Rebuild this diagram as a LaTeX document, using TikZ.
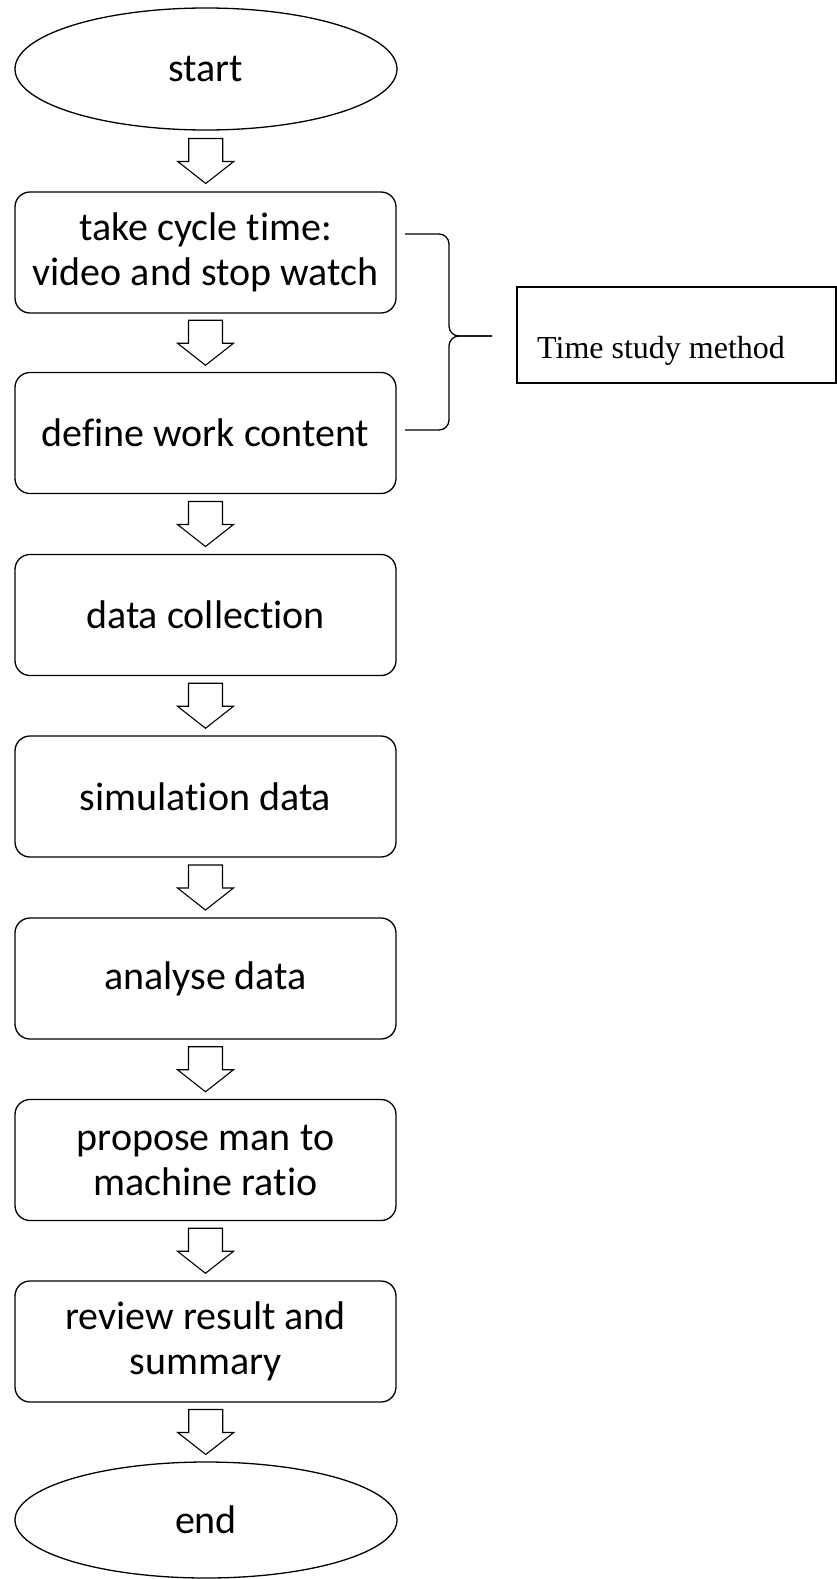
\documentclass[tikz,border=0pt]{standalone}
\usepackage{fontspec}
\setmainfont{Carlito}[RawFeature=-liga]
\newfontfamily\tsfont{Liberation Serif}
\usetikzlibrary{shapes.geometric,calc}
\tikzset{
 term/.style={ellipse,draw,line width=1.3pt,minimum width=382pt,minimum height=122pt,inner sep=0pt,font=\fontsize{40}{45}\selectfont},
 stepbox/.style={rectangle,draw,rounded corners=15pt,line width=1.3pt,minimum width=381pt,minimum height=121pt,inner sep=0pt,align=center,font=\fontsize{40}{45}\selectfont},
 blockarr/.style={draw,line width=1.1pt,line join=miter},
 tbox/.style={rectangle,draw,line width=1.3pt,minimum width=319pt,minimum height=96pt,inner sep=0pt},
 tlabel/.style={anchor=base west,inner sep=0pt,font=\tsfont\fontsize{32}{36}\selectfont},
 bracestyle/.style={draw,line width=1.3pt,rounded corners=10pt}
}
\newcommand\flowarrow[2]{%
 \coordinate (m) at ($(#1.south)!0.5!(#2.north)$);
 \draw[blockarr] ($(m)+(-17,-22.5)$) -- ($(m)+(17,-22.5)$) -- ($(m)+(17,0.5)$) -- ($(m)+(28,0.5)$) -- ($(m)+(0,22.5)$) -- ($(m)+(-28,0.5)$) -- ($(m)+(-17,0.5)$) -- cycle;}
\begin{document}
\begin{tikzpicture}[x=1pt,y=-1pt]
\useasboundingbox (0,0) rectangle (837,1579);
\node[term] (start) at (206,69) {start};
\node[stepbox] (s1) at (205.5,252.5) {take cycle time:\\video and stop watch};
\node[stepbox] (s2) at (205.5,433) {define work content};
\node[stepbox] (s3) at (205.5,615) {data collection};
\node[stepbox] (s4) at (205.5,796.5) {simulation data};
\node[stepbox] (s5) at (205.5,978.5) {analyse data};
\node[stepbox] (s6) at (205.5,1160) {propose man to\\machine ratio};
\node[stepbox] (s7) at (205.5,1341.5) {review result and\\summary};
\node[term, minimum height=116pt] (end) at (206,1520) {end};
\flowarrow{start}{s1}
\flowarrow{s1}{s2}
\flowarrow{s2}{s3}
\flowarrow{s3}{s4}
\flowarrow{s4}{s5}
\flowarrow{s5}{s6}
\flowarrow{s6}{s7}
\flowarrow{s7}{end}
% brace
\coordinate (bt) at (405,234);
\coordinate (bm) at (492,336);
\coordinate (bb) at (405,430);
\draw[bracestyle] (bt) -- (bt -| 449,0) -- (449,336) -- (bm);
\draw[bracestyle] (bm) -- (449,336) -- (bb -| 449,0) -- (bb);
% time study box
\node[tbox] (tsm) at (676.5,335) {};
\node[tlabel] (tsmtext) at (537,358) {Time study method};
\end{tikzpicture}
\end{document}
